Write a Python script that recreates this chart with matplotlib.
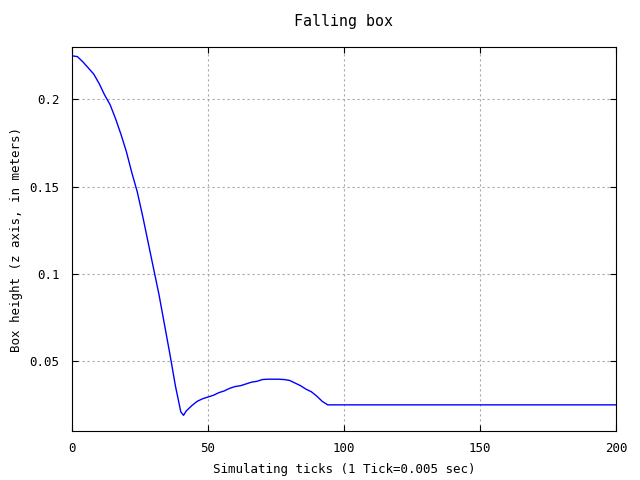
import matplotlib
matplotlib.use("Agg")
import matplotlib.pyplot as plt

ticks = [0, 2, 4, 6, 8, 10, 12, 14, 16, 18, 20, 22, 24, 26, 28, 30, 32, 34, 36, 38,
         40, 41, 42, 44, 46, 48, 50, 52, 54, 56, 58, 60, 62, 64, 66, 68, 70, 72, 74,
         76, 78, 80, 82, 84, 86, 88, 90, 92, 94, 96, 200]
height = [0.225, 0.2245, 0.2215, 0.218, 0.2145, 0.209, 0.2025, 0.197, 0.189, 0.180,
          0.170, 0.158, 0.147, 0.133, 0.118, 0.103, 0.088, 0.071, 0.054, 0.036,
          0.021, 0.019, 0.0215, 0.0245, 0.027, 0.0285, 0.0295, 0.0305, 0.032, 0.033,
          0.0345, 0.0355, 0.036, 0.037, 0.038, 0.0385, 0.0395, 0.0397, 0.0397,
          0.0397, 0.0395, 0.039, 0.0375, 0.036, 0.034, 0.0325, 0.030, 0.027,
          0.025, 0.025, 0.025]

xticks = [0, 50, 100, 150, 200]
yticks = [0.05, 0.1, 0.15, 0.2]
ytick_labels = ["0.05", "0.1", "0.15", "0.2"]

plt.rcParams['font.family'] = 'DejaVu Sans Mono'
plt.rcParams['font.size'] = 9

fig = plt.figure(figsize=(6.4, 4.8), dpi=100)
ax = fig.add_axes([0.1125, 0.102, 0.85, 0.8])

ax.plot(ticks, height, color='blue', linewidth=1)

ax.set_xlim(0, 200)
ax.set_ylim(0.01, 0.23)
ax.set_xticks(xticks)
ax.set_yticks(yticks)
ax.set_yticklabels(ytick_labels)
ax.tick_params(direction='in', top=True, right=True, length=4)
ax.tick_params(axis='x', pad=8)
ax.tick_params(axis='y', pad=9)
ax.grid(True, color='#a8a8a8', linestyle=(0, (2, 2.5)), linewidth=0.8)

ax.set_title("Falling box", pad=15)
ax.set_xlabel("Simulating ticks (1 Tick=0.005 sec)", labelpad=6)
ax.set_ylabel("Box height (z axis, in meters)", labelpad=5)

fig.savefig("out.png", dpi=100)
